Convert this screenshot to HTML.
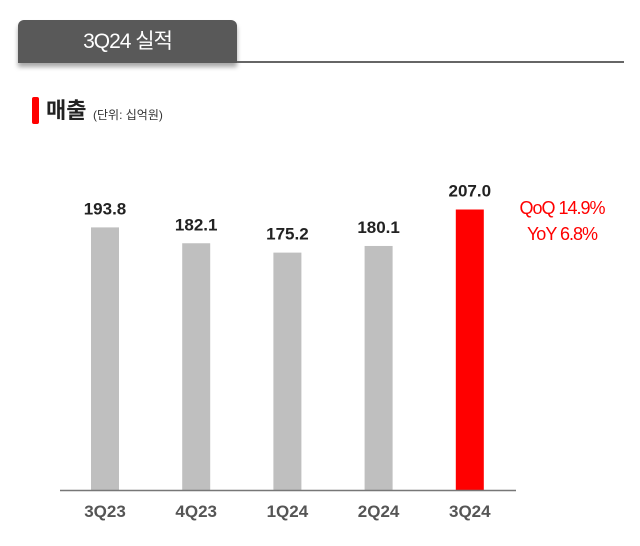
<!DOCTYPE html>
<html><head><meta charset="utf-8">
<style>
body{margin:0;width:640px;height:546px;background:#fff;overflow:hidden;font-family:"Liberation Sans","Noto Sans CJK KR",sans-serif;position:relative}
#tab{position:absolute;left:18px;top:20px;width:219px;height:43px;background:#595959;border-radius:6px 6px 0 0;box-shadow:0 4px 5px rgba(0,0,0,0.35);color:#fff;font-size:21px;line-height:43px;text-align:center;letter-spacing:-1px}
#rule{position:absolute;left:237px;top:61px;width:387px;height:2px;background:#666}
#mark{position:absolute;left:32px;top:97px;width:7px;height:27px;background:#f00;border-radius:2px}
#title{position:absolute;left:46px;top:93px;font-size:22px;font-weight:bold;color:#222}
#unit{position:absolute;left:93px;top:106px;font-size:12px;color:#333}
</style></head><body>
<div id="tab">3Q24 실적</div>
<div id="rule"></div>
<div id="mark"></div>
<div id="title">매출</div>
<div id="unit">(단위: 십억원)</div>
<svg id="chart" width="640" height="546" style="position:absolute;left:0;top:0"></svg>
<script>
const categories=["3Q23","4Q23","1Q24","2Q24","3Q24"];
const values=[193.8,182.1,175.2,180.1,207.0];
const valueLabels=["193.8","182.1","175.2","180.1","207.0"];
const highlight=[false,false,false,false,true];
const ns="http://www.w3.org/2000/svg";
const svg=document.getElementById('chart');
const base=490, scale=1.355;
function y(v){return base-v*scale;}
function x(i){return 105+i*91.2;}
const bw=28;
function mk(tag,a){const e=document.createElementNS(ns,tag);for(const k in a)e.setAttribute(k,a[k]);svg.appendChild(e);return e;}
categories.forEach((c,i)=>{
  const r=mk('rect',{x:x(i)-bw/2,y:y(values[i]),width:bw,height:base-y(values[i]),fill:highlight[i]?'#ff0000':'#bfbfbf'});
  
  
  const t=mk('text',{x:x(i),y:y(values[i])-13,'text-anchor':'middle','font-size':'17','font-weight':'bold',fill:'#222'});
  t.textContent=valueLabels[i];
  
  
  const l=mk('text',{x:x(i),y:517,'text-anchor':'middle','font-size':'17','font-weight':'bold',fill:'#555'});
  l.textContent=c;
  
  
});
const ax=mk('line',{x1:60,x2:516,y1:base+0.5,y2:base+0.5,stroke:'#777','stroke-width':1.5});


const q=mk('text',{x:562,y:214,'text-anchor':'middle','font-size':'18',fill:'#f00','letter-spacing':'-1'});
q.textContent='QoQ 14.9%';


const yy=mk('text',{x:562,y:240,'text-anchor':'middle','font-size':'18',fill:'#f00','letter-spacing':'-1'});
yy.textContent='YoY 6.8%';


</script>
</body></html>
